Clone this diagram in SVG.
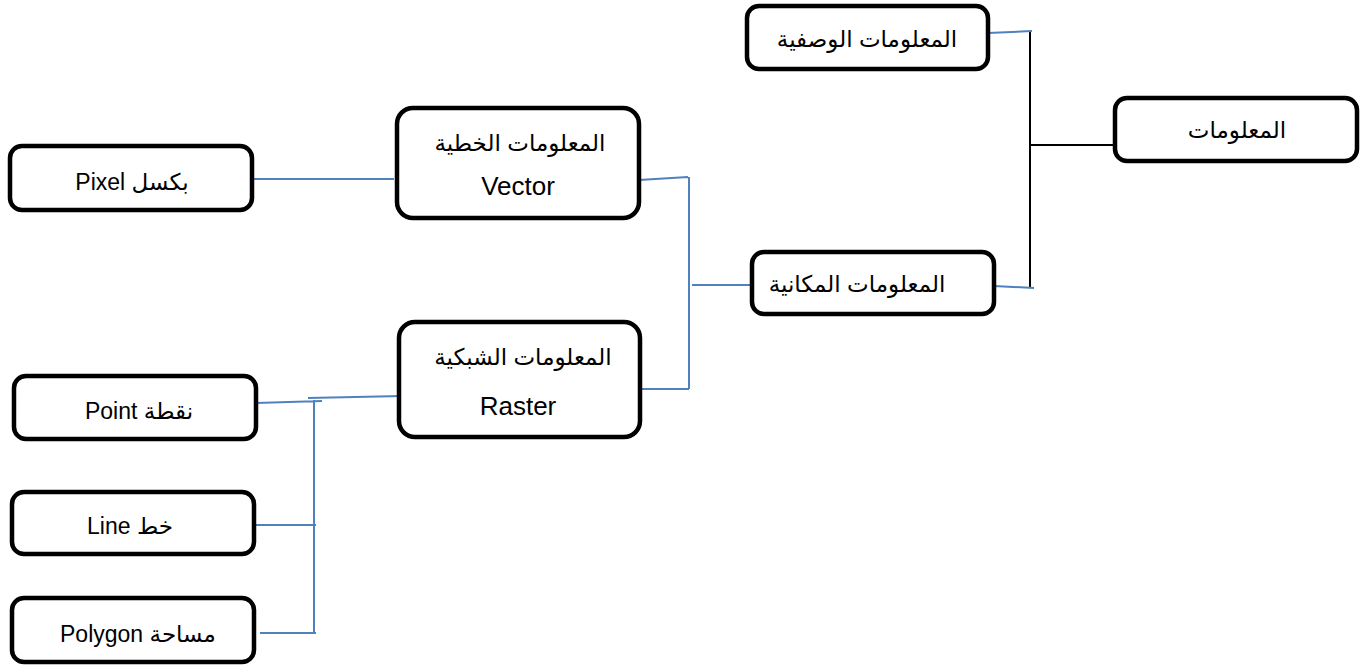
<svg xmlns="http://www.w3.org/2000/svg" width="1368" height="669" viewBox="0 0 1368 669">
<style>
.box{fill:#fff;stroke:#000;stroke-width:4.5}
.t{font-family:"Liberation Sans","DejaVu Sans",sans-serif;font-size:23px;fill:#000;text-anchor:middle}
.l{font-size:26px}
.b{stroke:#4f81bd;stroke-width:2;fill:none}
.k{stroke:#000;stroke-width:2;fill:none}
</style>
<rect width="1368" height="669" fill="#fff"/>
<g id="connectors">
<path class="k" d="M1030 31V288M1030 145H1115"/>
<path class="b" d="M988 33L1032 31M994 286L1034 288"/>
<path class="b" d="M639 180L688 177M689 177V389M640 389H689M692 285H752"/>
<path class="b" d="M252 179H394"/>
<path class="b" d="M402 396L308 398M256 403L322 401M314 400V633M256 525H316M260 633H316"/>
</g>
<g id="n-info"><rect class="box" x="1115" y="98" width="242" height="63" rx="12"/><text class="t" x="1237" y="138" direction="rtl">المعلومات</text></g>
<g id="n-desc"><rect class="box" x="747" y="6" width="241" height="63" rx="12"/><text class="t" x="867" y="47" direction="rtl">المعلومات الوصفية</text></g>
<g id="n-spatial"><rect class="box" x="752" y="252" width="242" height="62" rx="12"/><text class="t" x="857" y="292" direction="rtl">المعلومات المكانية</text></g>
<g id="n-vector"><rect class="box" x="397" y="108" width="242" height="110" rx="16"/><text class="t" x="520" y="151" direction="rtl">المعلومات الخطية</text><text class="t l" x="518" y="195">Vector</text></g>
<g id="n-raster"><rect class="box" x="399" y="322" width="241" height="115" rx="16"/><text class="t" x="523" y="365" direction="rtl">المعلومات الشبكية</text><text class="t l" x="518" y="415">Raster</text></g>
<g id="n-pixel"><rect class="box" x="10" y="146" width="242" height="64" rx="12"/><text class="t" x="132" y="190" direction="rtl">بكسل Pixel</text></g>
<g id="n-point"><rect class="box" x="14" y="376" width="242" height="63" rx="12"/><text class="t" x="139" y="419" direction="rtl">نقطة Point</text></g>
<g id="n-line"><rect class="box" x="12" y="492" width="242" height="62" rx="12"/><text class="t" x="130" y="534" direction="rtl">خط Line</text></g>
<g id="n-polygon"><rect class="box" x="12" y="598" width="242" height="64" rx="12"/><text class="t" x="138" y="642" direction="rtl">مساحة Polygon</text></g>
</svg>
